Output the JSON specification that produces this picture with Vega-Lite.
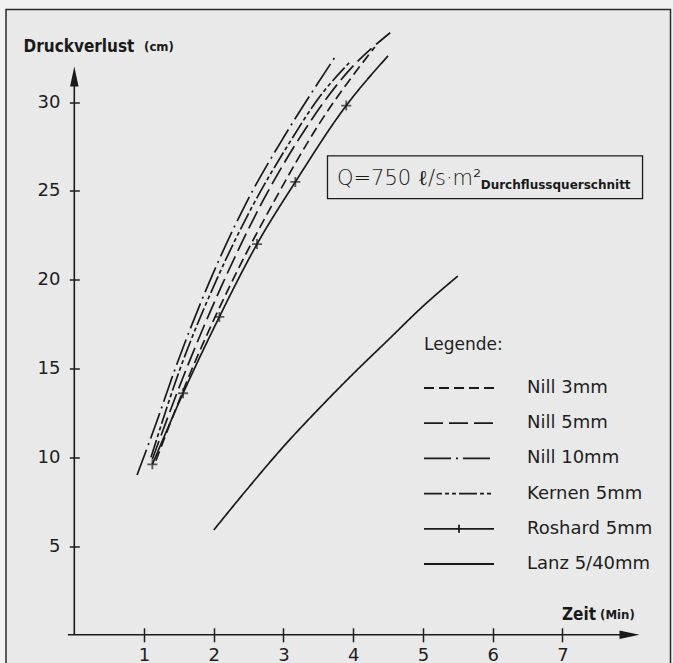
{
  "$schema": "https://vega.github.io/schema/vega-lite/v6.json",
  "width": 664.5,
  "height": 655.5,
  "autosize": {"type": "none"},
  "padding": {"left": 6, "top": 9.5, "right": 2.5, "bottom": -2},
  "background": "#f1f1f1",
  "config": {
    "view": {"stroke": "#2a2a2a", "strokeWidth": 1.5, "fill": "#e9e9e9"},
    "axis": {"domain": false, "grid": false, "tickColor": "#1e1e1e", "tickWidth": 1.5, "labelFont": "DejaVu Sans", "labelFontSize": 18, "labelColor": "#1e1e1e"}
  },
  "datasets": {
    "one": [{}],
    "curves": [
      {"series": "Nill 10mm", "x": 0.9, "y": 9.0},
      {"series": "Nill 10mm", "x": 1.2, "y": 12.2},
      {"series": "Nill 10mm", "x": 1.43, "y": 14.8},
      {"series": "Nill 10mm", "x": 1.93, "y": 19.8},
      {"series": "Nill 10mm", "x": 2.45, "y": 24.2},
      {"series": "Nill 10mm", "x": 3.0, "y": 28.0},
      {"series": "Nill 10mm", "x": 3.4, "y": 30.5},
      {"series": "Nill 10mm", "x": 3.75, "y": 32.6},
      {"series": "Kernen 5mm", "x": 1.1, "y": 10.0},
      {"series": "Kernen 5mm", "x": 1.51, "y": 14.9},
      {"series": "Kernen 5mm", "x": 2.03, "y": 19.9},
      {"series": "Kernen 5mm", "x": 2.55, "y": 24.1},
      {"series": "Kernen 5mm", "x": 3.1, "y": 27.8},
      {"series": "Kernen 5mm", "x": 3.5, "y": 30.2},
      {"series": "Kernen 5mm", "x": 3.94, "y": 32.2},
      {"series": "Nill 5mm", "x": 1.12, "y": 9.9},
      {"series": "Nill 5mm", "x": 1.6, "y": 14.9},
      {"series": "Nill 5mm", "x": 2.13, "y": 19.8},
      {"series": "Nill 5mm", "x": 2.7, "y": 24.4},
      {"series": "Nill 5mm", "x": 3.3, "y": 28.4},
      {"series": "Nill 5mm", "x": 3.9, "y": 31.6},
      {"series": "Nill 5mm", "x": 4.53, "y": 33.9},
      {"series": "Nill 3mm", "x": 1.17, "y": 9.8},
      {"series": "Nill 3mm", "x": 1.67, "y": 14.8},
      {"series": "Nill 3mm", "x": 2.25, "y": 19.8},
      {"series": "Nill 3mm", "x": 2.85, "y": 24.3},
      {"series": "Nill 3mm", "x": 3.5, "y": 28.7},
      {"series": "Nill 3mm", "x": 4.31, "y": 33.1},
      {"series": "Roshard 5mm", "x": 1.12, "y": 9.6},
      {"series": "Roshard 5mm", "x": 1.56, "y": 13.6},
      {"series": "Roshard 5mm", "x": 2.08, "y": 17.9},
      {"series": "Roshard 5mm", "x": 2.62, "y": 22.0},
      {"series": "Roshard 5mm", "x": 3.17, "y": 25.5},
      {"series": "Roshard 5mm", "x": 3.9, "y": 29.8},
      {"series": "Roshard 5mm", "x": 4.5, "y": 32.6},
      {"series": "Lanz 5/40mm", "x": 2.0, "y": 5.9},
      {"series": "Lanz 5/40mm", "x": 2.5, "y": 8.3},
      {"series": "Lanz 5/40mm", "x": 3.0, "y": 10.6},
      {"series": "Lanz 5/40mm", "x": 3.5, "y": 12.7},
      {"series": "Lanz 5/40mm", "x": 4.0, "y": 14.7},
      {"series": "Lanz 5/40mm", "x": 4.5, "y": 16.6},
      {"series": "Lanz 5/40mm", "x": 5.0, "y": 18.5},
      {"series": "Lanz 5/40mm", "x": 5.5, "y": 20.2}
    ]
  },
  "layer": [
    {
      "data": {"name": "curves"},
      "mark": {"type": "line", "interpolate": "monotone", "strokeWidth": 1.7, "color": "#1a1a1a"},
      "encoding": {
        "x": {"field": "x", "type": "quantitative", "scale": {"domain": [-0.9795, 8.55], "nice": false, "zero": false},
              "axis": {"title": null, "format": "d", "values": [1, 2, 3, 4, 5, 6, 7], "offset": -37.2, "tickSize": 14, "labelPadding": 4.2}},
        "y": {"field": "y", "type": "quantitative", "scale": {"domain": [-1.7, 35.209], "nice": false, "zero": false},
              "axis": {"title": null, "format": "d", "values": [5, 10, 15, 20, 25, 30], "offset": -73.3, "tickSize": 10, "labelPadding": 9.3}},
        "strokeDash": {
          "field": "series", "type": "nominal",
          "scale": {"domain": ["Nill 3mm", "Nill 5mm", "Nill 10mm", "Kernen 5mm", "Roshard 5mm", "Lanz 5/40mm"],
                    "range": [[10, 5], [19, 6], [27, 5, 2, 5], [18, 3, 4, 3, 4, 3], [1, 0], [1, 0]]},
          "legend": {
            "orient": "none", "legendX": 418, "legendY": 327, "padding": 0,
            "title": "Legende:", "titleFont": "DejaVu Sans", "titleFontSize": 17, "titleFontWeight": "normal", "titleColor": "#1e1e1e", "titlePadding": 25.5,
            "labelFont": "DejaVu Sans", "labelFontSize": 18, "labelColor": "#1e1e1e", "labelOffset": 85,
            "symbolType": "M-1.8,0H12.2", "symbolSize": 100, "symbolStrokeWidth": 1.8, "symbolStrokeColor": "#1a1a1a", "symbolFillColor": "transparent",
            "rowPadding": 17.2,
            "encode": {"symbols": {"update": {"shape": {"signal": "datum.value === 'Roshard 5mm' ? 'M-1.8,0H12.2M5.2,-0.8V0.8' : 'M-1.8,0H12.2'"}}}}
          }
        }
      }
    },
    {
      "data": {"name": "curves"},
      "transform": [{"filter": "datum.series === 'Roshard 5mm' && datum.x < 4.2"}],
      "mark": {"type": "point", "shape": "M-1,0H1M0,-1V1", "filled": false, "size": 100, "stroke": "#1a1a1a", "strokeWidth": 1.8},
      "encoding": {"x": {"field": "x", "type": "quantitative"}, "y": {"field": "y", "type": "quantitative"}}
    },
    {
      "data": {"name": "one"},
      "mark": {"type": "rule", "strokeWidth": 1.6, "color": "#1a1a1a"},
      "encoding": {"x": {"datum": -0.093}, "x2": {"datum": 7.9}, "y": {"datum": 0}}
    },
    {
      "data": {"name": "one"},
      "mark": {"type": "rule", "strokeWidth": 1.6, "color": "#1a1a1a"},
      "encoding": {"x": {"datum": 0}, "y": {"datum": 0}, "y2": {"datum": 31.4}}
    },
    {
      "data": {"name": "one"},
      "mark": {"type": "point", "shape": "M0,0L-4,-0.85L-4,0.85Z", "filled": true, "size": 100, "color": "#1a1a1a", "strokeWidth": 0, "opacity": 1},
      "encoding": {"x": {"datum": 8.105}, "y": {"datum": 0}}
    },
    {
      "data": {"name": "one"},
      "mark": {"type": "point", "shape": "M0,0L-0.85,4L0.85,4Z", "filled": true, "size": 100, "color": "#1a1a1a", "strokeWidth": 0, "opacity": 1},
      "encoding": {"x": {"datum": 0}, "y": {"datum": 32.0}}
    },
    {
      "data": {"name": "one"},
      "mark": {"type": "rect", "fill": "transparent", "stroke": "#1a1a1a", "strokeWidth": 1.3},
      "encoding": {"x": {"datum": 3.631}, "x2": {"datum": 8.149}, "y": {"datum": 26.97}, "y2": {"datum": 24.56}}
    },
    {
      "data": {"name": "one"},
      "mark": {"type": "text", "text": "Q=750 ℓ/s·m²", "font": "DejaVu Sans", "fontWeight": 200, "fontSize": 21, "align": "left", "baseline": "alphabetic", "color": "#1a1a1a"},
      "encoding": {"x": {"datum": 3.767}, "y": {"datum": 25.35}}
    },
    {
      "data": {"name": "one"},
      "mark": {"type": "text", "text": "Durchflussquerschnitt", "font": "DejaVu Sans", "fontWeight": "bold", "fontSize": 12, "align": "left", "baseline": "alphabetic", "color": "#1a1a1a"},
      "encoding": {"x": {"datum": 5.828}, "y": {"datum": 25.1}}
    },
    {
      "data": {"name": "one"},
      "mark": {"type": "text", "text": "Druckverlust", "font": "DejaVu Sans Condensed, sans-serif", "fontWeight": "bold", "fontSize": 17, "align": "left", "baseline": "alphabetic", "color": "#1a1a1a"},
      "encoding": {"x": {"datum": -0.727}, "y": {"datum": 32.84}}
    },
    {
      "data": {"name": "one"},
      "mark": {"type": "text", "text": "(cm)", "font": "DejaVu Sans Condensed, sans-serif", "fontWeight": "bold", "fontSize": 13, "align": "left", "baseline": "alphabetic", "color": "#1a1a1a"},
      "encoding": {"x": {"datum": 1.0}, "y": {"datum": 32.9}}
    },
    {
      "data": {"name": "one"},
      "mark": {"type": "text", "text": "Zeit", "font": "DejaVu Sans Condensed, sans-serif", "fontWeight": "bold", "fontSize": 17, "align": "left", "baseline": "alphabetic", "color": "#1a1a1a"},
      "encoding": {"x": {"datum": 6.994}, "y": {"datum": 0.833}}
    },
    {
      "data": {"name": "one"},
      "mark": {"type": "text", "text": "(Min)", "font": "DejaVu Sans Condensed, sans-serif", "fontWeight": "bold", "fontSize": 13, "align": "left", "baseline": "alphabetic", "color": "#1a1a1a"},
      "encoding": {"x": {"datum": 7.54}, "y": {"datum": 0.9}}
    }
  ]
}
